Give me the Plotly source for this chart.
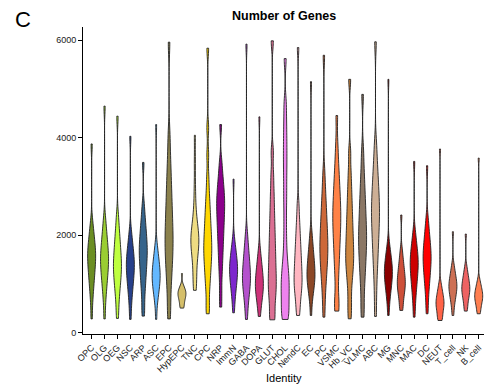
import plotly.graph_objects as go

# Number of detected genes per cell, grouped by cell identity
CATEGORIES = ["OPC", "OLG", "OEG", "NSC", "ARP", "ASC", "EPC", "HypEPC", "TNC", "CPC",
              "NRP", "ImmN", "GABA", "DOPA", "GLUT", "CHOL", "NendC", "EC", "PC", "VSMC",
              "Hb_VC", "VLMC", "ABC", "MG", "MNC", "MAC", "DC", "NEUT", "T_cell", "NK", "B_cell"]

OPC = [280, 609, 799, 930, 1035, 1127, 1209, 1284, 1353, 1419, 1479, 1538, 1592, 1649, 1707, 1771, 1841, 1919, 2008, 2119, 2280, 3870]
OLG = [280, 604, 791, 920, 1023, 1113, 1193, 1267, 1335, 1399, 1459, 1516, 1574, 1637, 1703, 1776, 1854, 1942, 2043, 2169, 2351, 4646]
OEG = [290, 509, 700, 831, 936, 1028, 1110, 1186, 1255, 1321, 1381, 1447, 1514, 1587, 1663, 1747, 1838, 1940, 2056, 2202, 2413, 4440]
NSC = [270, 534, 706, 825, 920, 1003, 1077, 1145, 1208, 1267, 1322, 1375, 1425, 1479, 1535, 1597, 1664, 1739, 1825, 1932, 2088, 4027]
ARP = [337, 518, 751, 912, 1041, 1154, 1254, 1347, 1431, 1512, 1586, 1659, 1726, 1798, 1874, 1957, 2047, 2148, 2263, 2407, 2616, 3491]
ASC = [270, 573, 700, 788, 858, 919, 974, 1024, 1070, 1114, 1155, 1197, 1240, 1286, 1335, 1389, 1447, 1513, 1587, 1681, 1816, 4268]
EPC = [280, 537, 858, 1079, 1256, 1411, 1549, 1677, 1793, 1909, 2026, 2154, 2285, 2427, 2576, 2740, 2917, 3116, 3343, 3627, 4039, 5959]
HypEPC = [502, 510, 543, 585, 618, 647, 674, 698, 719, 740, 760, 778, 796, 813, 829, 847, 867, 888, 913, 944, 989, 1210]
TNC = [866, 950, 1100, 1250, 1400, 1520, 1620, 1700, 1760, 1820, 1870, 1920, 1970, 2030, 2100, 2180, 2280, 2420, 2650, 3000, 3500, 4048]
CPC = [385, 557, 819, 999, 1144, 1270, 1383, 1487, 1582, 1672, 1757, 1849, 1943, 2044, 2151, 2268, 2395, 2537, 2700, 2903, 3198, 3650, 4200, 5835]
NRP = [522, 842, 1166, 1390, 1569, 1725, 1865, 1994, 2111, 2223, 2326, 2427, 2519, 2612, 2698, 2787, 2883, 2992, 3115, 3270, 3494, 4268]
ImmN = [405, 595, 739, 838, 917, 986, 1048, 1105, 1157, 1207, 1252, 1297, 1340, 1386, 1435, 1489, 1547, 1613, 1687, 1781, 1916, 3148]
GABA = [268, 459, 612, 717, 802, 876, 942, 1002, 1058, 1111, 1163, 1220, 1278, 1340, 1406, 1478, 1557, 1645, 1745, 1870, 2052, 5918]
DOPA = [330, 461, 579, 661, 726, 783, 834, 881, 924, 965, 1006, 1050, 1096, 1145, 1197, 1254, 1316, 1385, 1464, 1562, 1705, 4426]
GLUT = [261, 311, 539, 696, 822, 935, 1046, 1157, 1275, 1401, 1528, 1665, 1807, 1960, 2120, 2296, 2487, 2702, 2946, 3252, 3696, 5986]
CHOL = [268, 330, 450, 580, 700, 820, 930, 1040, 1150, 1280, 1430, 1650, 1950, 2300, 2650, 2950, 3250, 3520, 3780, 4050, 4350, 4700, 5622]
NendC = [350, 477, 643, 758, 850, 931, 1004, 1072, 1145, 1222, 1300, 1384, 1471, 1565, 1663, 1771, 1888, 2020, 2170, 2357, 2629, 5849]
EC = [350, 630, 762, 853, 926, 989, 1046, 1099, 1146, 1194, 1242, 1295, 1349, 1407, 1468, 1535, 1608, 1690, 1784, 1900, 2069, 5148]
PC = [316, 645, 898, 1072, 1212, 1334, 1443, 1544, 1635, 1723, 1809, 1903, 2000, 2104, 2213, 2333, 2464, 2610, 2777, 2985, 3288, 5690]
VSMC = [440, 520, 674, 1023, 1263, 1455, 1623, 1774, 1912, 2038, 2158, 2269, 2377, 2480, 2592, 2709, 2838, 2977, 3133, 3312, 3535, 3859, 4454]
Hb_VC = [282, 500, 723, 960, 1124, 1255, 1369, 1472, 1567, 1666, 1772, 1878, 1993, 2112, 2240, 2374, 2522, 2682, 2861, 3066, 3322, 3694, 5196]
VLMC = [316, 529, 844, 1062, 1236, 1388, 1524, 1649, 1763, 1871, 1974, 2084, 2198, 2321, 2450, 2591, 2744, 2916, 3113, 3359, 3715, 4887]
ABC = [330, 769, 1113, 1350, 1540, 1706, 1854, 1991, 2115, 2234, 2344, 2450, 2551, 2658, 2771, 2894, 3028, 3178, 3350, 3565, 3876, 5966]
MG = [350, 584, 719, 813, 887, 953, 1011, 1065, 1114, 1160, 1203, 1245, 1286, 1330, 1376, 1426, 1481, 1542, 1612, 1700, 1827, 5196]
MNC = [454, 509, 625, 705, 770, 826, 876, 922, 964, 1005, 1044, 1086, 1130, 1177, 1227, 1281, 1340, 1406, 1482, 1576, 1713, 2412]
MAC = [316, 540, 716, 837, 934, 1019, 1095, 1165, 1228, 1289, 1345, 1400, 1450, 1502, 1557, 1617, 1682, 1755, 1838, 1943, 2094, 3512]
DC = [385, 610, 800, 932, 1037, 1129, 1211, 1287, 1356, 1421, 1482, 1541, 1598, 1659, 1724, 1795, 1871, 1958, 2056, 2179, 2357, 3423]
NEUT = [247, 260, 299, 357, 403, 444, 480, 513, 544, 573, 600, 626, 654, 685, 717, 752, 790, 832, 881, 942, 1030, 3766]
T_cell = [350, 484, 583, 651, 705, 752, 795, 834, 870, 904, 935, 965, 996, 1030, 1066, 1105, 1148, 1195, 1249, 1317, 1416, 2069]
NK = [440, 476, 568, 631, 682, 727, 767, 803, 837, 868, 898, 927, 958, 991, 1026, 1065, 1106, 1153, 1206, 1272, 1369, 2021]
B_cell = [385, 400, 474, 525, 566, 601, 633, 663, 689, 715, 738, 762, 785, 811, 837, 867, 899, 934, 975, 1026, 1100, 3580]

GENES = [OPC, OLG, OEG, NSC, ARP, ASC, EPC, HypEPC, TNC, CPC, NRP, ImmN, GABA, DOPA, GLUT,
         CHOL, NendC, EC, PC, VSMC, Hb_VC, VLMC, ABC, MG, MNC, MAC, DC, NEUT, T_cell, NK, B_cell]

COLORS = ["#6B8E23", "#9ACD32", "#BFFF3F", "#27408B", "#36648B", "#63B8FF", "#8B814C", "#D5BF6A",
          "#EEDC82", "#FFD700", "#8B008B", "#7D26CD", "#B452CD", "#CD3278", "#DB7093", "#EE82EE",
          "#FFB6C1", "#8B4726", "#CD6839", "#FF8247", "#CD853F", "#8B7765", "#CDAF95", "#8B0000",
          "#CD4F39", "#CD0000", "#FF0000", "#FF6347", "#CD7054", "#EE6363", "#FF7F50"]

# kernel bandwidth (genes) per violin
DEFAULT_BW = 170
BW = {"HypEPC": 60, "NEUT": 90, "B_cell": 85, "T_cell": 100, "NK": 95, "MNC": 120,
      "TNC": 220, "CHOL": 190, "EPC": 260, "VLMC": 230, "ABC": 230, "VSMC": 230, "PC": 220}

FONT = "Liberation Sans, Arial, Helvetica, sans-serif"

fig = go.Figure()
for cat, vals, col in zip(CATEGORIES, GENES, COLORS):
    fig.add_trace(go.Violin(
        x=[cat] * len(vals), y=vals, name=cat,
        fillcolor=col, opacity=1,
        line=dict(color="#222222", width=0.9),
        width=0.62, scalemode="width", spanmode="hard",
        bandwidth=BW.get(cat, DEFAULT_BW),
        points=False, box_visible=False, meanline_visible=False,
        hoveron="violins", showlegend=False,
    ))

fig.update_layout(
    width=484, height=390,
    margin=dict(l=83, r=0, t=27, b=56),
    paper_bgcolor="white", plot_bgcolor="white",
    violinmode="overlay",
    font=dict(family=FONT, color="#000000"),
    xaxis=dict(
        type="category", categoryorder="array", categoryarray=CATEGORIES,
        range=[-0.67, 30.41], tickangle=-45,
        showline=True, linecolor="#000000", linewidth=1,
        ticks="outside", ticklen=4, tickcolor="#000000", tickwidth=0.8,
        tickfont=dict(size=9, color="#1a1a1a"),
        showgrid=False, zeroline=False,
    ),
    yaxis=dict(
        range=[-30, 6270], tickvals=[0, 2000, 4000, 6000],
        showline=True, linecolor="#000000", linewidth=1,
        ticks="outside", ticklen=4, tickcolor="#000000", tickwidth=0.8,
        tickfont=dict(size=9, color="#1a1a1a"),
        showgrid=False, zeroline=False,
    ),
    annotations=[
        dict(text="<b>Number of Genes</b>", xref="paper", yref="paper", x=0.5, y=1.036,
             xanchor="center", yanchor="middle", showarrow=False, font=dict(size=12.5)),
        dict(text="Identity", xref="paper", yref="paper", x=0.5, y=-0.142,
             xanchor="center", yanchor="middle", showarrow=False, font=dict(size=11)),
        dict(text="C", xref="paper", yref="paper", x=-0.175, y=1.023,
             xanchor="left", yanchor="middle", showarrow=False, font=dict(size=22)),
    ],
)

fig.write_html("out.html")
